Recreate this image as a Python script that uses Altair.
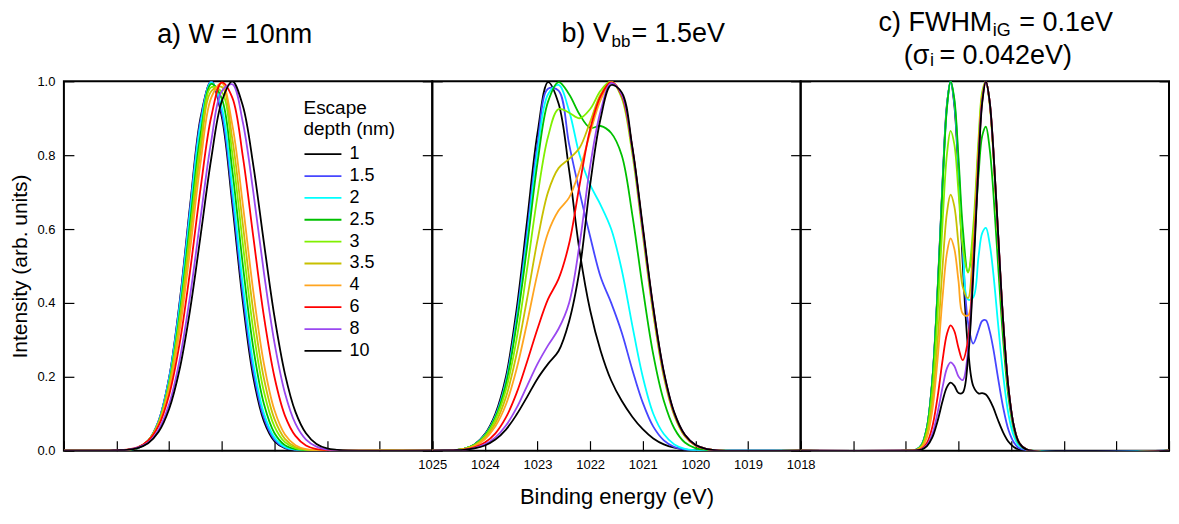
import altair as alt
import pandas as pd

FONT = "Liberation Sans"

depths = ["1", "1.5", "2", "2.5", "3", "3.5", "4", "6", "8", "10"]
colors = ["#000000", "#4646ff", "#00ffff", "#00c000", "#80f000", "#c8c000",
          "#ffa520", "#ff0000", "#9a48f0", "#000000"]

x_ticks = [1025, 1024, 1023, 1022, 1021, 1020, 1019, 1018]
y_ticks = [0.0, 0.2, 0.4, 0.6, 0.8, 1.0]

# ---------------- panel a) W = 10nm ----------------
grid_a = [1025.0, 1024.2, 1024.0, 1023.8, 1023.6, 1023.4, 1023.2, 1023.0, 1022.8,
          1022.6, 1022.4, 1022.2, 1022.0, 1021.8, 1021.6, 1021.4, 1021.2, 1021.0,
          1020.8, 1020.6, 1020.4, 1020.2, 1020.0, 1019.8, 1019.6, 1018.0]
a_1 = [0, 0, 0, 0.002, 0.007, 0.026, 0.080, 0.198, 0.403, 0.667, 0.904, 1.0, 0.904,
       0.667, 0.403, 0.198, 0.080, 0.026, 0.007, 0.002, 0, 0, 0, 0, 0, 0]
a_15 = [0, 0, 0, 0.002, 0.007, 0.027, 0.081, 0.198, 0.399, 0.660, 0.897, 1.0, 0.915,
        0.687, 0.424, 0.214, 0.089, 0.030, 0.008, 0.002, 0, 0, 0, 0, 0, 0]
a_2 = [0, 0, 0, 0.002, 0.007, 0.027, 0.079, 0.193, 0.389, 0.646, 0.885, 0.998, 0.929,
       0.712, 0.450, 0.235, 0.101, 0.036, 0.010, 0.003, 0.001, 0, 0, 0, 0, 0]
a_25 = [0, 0, 0, 0.002, 0.007, 0.026, 0.076, 0.184, 0.371, 0.620, 0.860, 0.993, 0.953,
        0.759, 0.503, 0.277, 0.127, 0.048, 0.015, 0.004, 0.001, 0, 0, 0, 0, 0]
a_3 = [0, 0, 0, 0.002, 0.008, 0.027, 0.076, 0.180, 0.359, 0.597, 0.837, 0.984, 0.971,
       0.805, 0.560, 0.326, 0.160, 0.066, 0.023, 0.007, 0.002, 0, 0, 0, 0, 0]
a_35 = [0, 0, 0, 0.002, 0.008, 0.027, 0.075, 0.175, 0.345, 0.576, 0.813, 0.973, 0.985,
        0.844, 0.613, 0.376, 0.196, 0.086, 0.032, 0.010, 0.003, 0.001, 0, 0, 0, 0]
a_4 = [0, 0, 0.001, 0.002, 0.008, 0.026, 0.071, 0.164, 0.325, 0.546, 0.783, 0.956, 0.995,
       0.882, 0.667, 0.430, 0.236, 0.110, 0.044, 0.015, 0.004, 0.001, 0, 0, 0, 0]
a_6 = [0, 0, 0.001, 0.003, 0.009, 0.027, 0.068, 0.151, 0.291, 0.489, 0.713, 0.904, 0.997,
       0.956, 0.797, 0.578, 0.364, 0.200, 0.095, 0.040, 0.014, 0.004, 0.001, 0, 0, 0]
a_8 = [0, 0, 0.001, 0.002, 0.008, 0.022, 0.057, 0.126, 0.246, 0.421, 0.634, 0.838, 0.973,
       0.992, 0.889, 0.699, 0.483, 0.293, 0.156, 0.073, 0.030, 0.011, 0.003, 0.001, 0, 0]
a_10 = [0, 0, 0.001, 0.002, 0.007, 0.020, 0.051, 0.113, 0.221, 0.383, 0.585, 0.791, 0.946,
        1.0, 0.934, 0.772, 0.564, 0.364, 0.208, 0.105, 0.047, 0.018, 0.006, 0.002, 0, 0]

# ---------------- panel b) Vbb = 1.5eV ----------------
grid_b = [1025.0, 1024.6, 1024.4, 1024.2, 1024.0, 1023.8, 1023.6, 1023.4, 1023.2, 1023.0,
          1022.8, 1022.6, 1022.4, 1022.2, 1022.0, 1021.8, 1021.6, 1021.4, 1021.2, 1021.0,
          1020.8, 1020.6, 1020.4, 1020.2, 1020.0, 1019.8, 1019.6, 1018.0]
b_1 = [0, 0.001, 0.005, 0.017, 0.045, 0.10, 0.20, 0.38, 0.62, 0.86, 0.998, 0.94, 0.76,
       0.54, 0.38, 0.27, 0.19, 0.135, 0.092, 0.058, 0.033, 0.017, 0.008, 0.003, 0.001, 0, 0, 0]
b_15 = [0, 0.001, 0.005, 0.016, 0.043, 0.095, 0.19, 0.36, 0.59, 0.83, 0.98, 0.975, 0.83,
        0.70, 0.58, 0.47, 0.40, 0.32, 0.22, 0.13, 0.065, 0.028, 0.010, 0.003, 0.001, 0, 0, 0]
b_2 = [0, 0.001, 0.005, 0.016, 0.042, 0.092, 0.185, 0.35, 0.57, 0.81, 0.965, 0.99, 0.92,
       0.80, 0.72, 0.665, 0.60, 0.49, 0.34, 0.20, 0.10, 0.045, 0.017, 0.005, 0.001, 0, 0, 0]
b_25 = [0, 0.001, 0.005, 0.016, 0.041, 0.09, 0.18, 0.34, 0.55, 0.78, 0.945, 0.998, 0.965,
        0.91, 0.874, 0.879, 0.86, 0.80, 0.64, 0.44, 0.26, 0.135, 0.06, 0.022, 0.007, 0.002, 0, 0]
b_3 = [0, 0.001, 0.005, 0.015, 0.039, 0.085, 0.165, 0.30, 0.49, 0.69, 0.85, 0.925, 0.915,
       0.90, 0.925, 0.975, 1.0, 0.955, 0.805, 0.585, 0.37, 0.20, 0.095, 0.039, 0.014, 0.004, 0.001, 0]
b_35 = [0, 0.001, 0.004, 0.014, 0.035, 0.075, 0.145, 0.26, 0.41, 0.57, 0.70, 0.765, 0.79,
        0.82, 0.89, 0.965, 0.999, 0.96, 0.815, 0.595, 0.375, 0.205, 0.098, 0.04, 0.015, 0.005, 0.001, 0]
b_4 = [0, 0.001, 0.004, 0.012, 0.031, 0.066, 0.125, 0.22, 0.345, 0.48, 0.59, 0.65, 0.685,
       0.76, 0.86, 0.95, 0.997, 0.965, 0.82, 0.60, 0.38, 0.21, 0.10, 0.042, 0.015, 0.005, 0.001, 0]
b_6 = [0, 0.001, 0.003, 0.009, 0.022, 0.047, 0.09, 0.155, 0.24, 0.33, 0.41, 0.465, 0.56,
       0.72, 0.87, 0.96, 0.998, 0.962, 0.82, 0.60, 0.385, 0.21, 0.10, 0.042, 0.015, 0.005, 0.001, 0]
b_8 = [0, 0.001, 0.002, 0.007, 0.017, 0.036, 0.068, 0.115, 0.175, 0.235, 0.285, 0.33, 0.40,
       0.56, 0.77, 0.92, 0.995, 0.965, 0.82, 0.60, 0.385, 0.212, 0.102, 0.043, 0.016, 0.005, 0.001, 0]
b_10 = [0, 0.001, 0.002, 0.006, 0.014, 0.03, 0.057, 0.097, 0.145, 0.195, 0.235, 0.27, 0.35,
        0.49, 0.72, 0.90, 0.99, 0.97, 0.824, 0.607, 0.388, 0.214, 0.103, 0.043, 0.016, 0.005, 0.001, 0]

# ---------------- panel c) FWHM_iG = 0.1eV ----------------
grid_c = [1025.0, 1023.0, 1022.8, 1022.7, 1022.6, 1022.5, 1022.4, 1022.3, 1022.22, 1022.15,
          1022.08, 1022.0, 1021.92, 1021.82, 1021.72, 1021.62, 1021.55, 1021.48, 1021.41,
          1021.34, 1021.25, 1021.15, 1021.05, 1020.95, 1020.85, 1020.7, 1018.0]
c_1 = [0, 0, 0.003, 0.016, 0.063, 0.188, 0.428, 0.738, 0.937, 1.0, 0.937, 0.745, 0.509, 0.279,
       0.175, 0.155, 0.156, 0.152, 0.138, 0.117, 0.083, 0.049, 0.024, 0.010, 0.003, 0, 0]
c_15 = [0, 0, 0.003, 0.016, 0.063, 0.186, 0.423, 0.732, 0.932, 1.0, 0.944, 0.765, 0.546, 0.348,
        0.290, 0.326, 0.351, 0.353, 0.325, 0.277, 0.198, 0.116, 0.056, 0.023, 0.007, 0.001, 0]
c_2 = [0, 0, 0.003, 0.016, 0.062, 0.185, 0.422, 0.730, 0.931, 1.0, 0.948, 0.777, 0.572, 0.409,
       0.415, 0.525, 0.589, 0.603, 0.562, 0.482, 0.346, 0.203, 0.098, 0.040, 0.013, 0.002, 0]
c_25 = [0, 0, 0.003, 0.015, 0.062, 0.184, 0.419, 0.726, 0.928, 1.0, 0.953, 0.793, 0.606, 0.484,
        0.558, 0.746, 0.852, 0.877, 0.820, 0.704, 0.507, 0.297, 0.144, 0.058, 0.019, 0.003, 0]
c_3 = [0, 0, 0.0025, 0.013, 0.053, 0.158, 0.361, 0.626, 0.802, 0.866, 0.830, 0.699, 0.552, 0.482,
       0.607, 0.843, 0.971, 1.0, 0.941, 0.809, 0.583, 0.341, 0.165, 0.067, 0.022, 0.003, 0]
c_35 = [0, 0, 0.002, 0.011, 0.043, 0.128, 0.291, 0.504, 0.644, 0.693, 0.662, 0.557, 0.444, 0.413,
        0.565, 0.820, 0.961, 1.0, 0.944, 0.813, 0.587, 0.344, 0.166, 0.067, 0.022, 0.003, 0]
c_4 = [0, 0, 0.002, 0.009, 0.036, 0.107, 0.243, 0.420, 0.535, 0.575, 0.547, 0.459, 0.371, 0.366,
       0.537, 0.805, 0.954, 1.0, 0.946, 0.816, 0.590, 0.346, 0.167, 0.067, 0.022, 0.003, 0]
c_6 = [0, 0, 0.001, 0.005, 0.021, 0.063, 0.143, 0.248, 0.316, 0.339, 0.324, 0.278, 0.245, 0.299,
       0.503, 0.790, 0.948, 1.0, 0.947, 0.819, 0.593, 0.347, 0.168, 0.068, 0.022, 0.003, 0]
c_8 = [0, 0, 0.001, 0.004, 0.015, 0.044, 0.101, 0.174, 0.223, 0.239, 0.229, 0.201, 0.191, 0.268,
       0.488, 0.783, 0.945, 1.0, 0.947, 0.820, 0.594, 0.348, 0.168, 0.068, 0.022, 0.003, 0]
c_10 = [0, 0, 0.001, 0.003, 0.012, 0.035, 0.079, 0.136, 0.172, 0.184, 0.176, 0.156, 0.157, 0.248,
        0.475, 0.775, 0.941, 1.0, 0.948, 0.820, 0.595, 0.348, 0.169, 0.068, 0.022, 0.003, 0]

series_a = [a_1, a_15, a_2, a_25, a_3, a_35, a_4, a_6, a_8, a_10]
series_b = [b_1, b_15, b_2, b_25, b_3, b_35, b_4, b_6, b_8, b_10]
series_c = [c_1, c_15, c_2, c_25, c_3, c_35, c_4, c_6, c_8, c_10]


def frame(grid, series):
    rows = []
    for d, vals in zip(depths, series):
        for e, v in zip(grid, vals):
            rows.append({"depth": d, "E": e, "I": v})
    return pd.DataFrame(rows)


def txt(text, x, y, size, align="center"):
    return alt.Chart(alt.Data(values=[{"t": text}])).mark_text(
        align=align, baseline="alphabetic", fontSize=size, font=FONT, color="black"
    ).encode(text="t:N", x=alt.value(x), y=alt.value(y))


W = 369
H = 370
xscale = alt.Scale(domain=[1018, 1025], reverse=True, nice=False, zero=False)
yscale = alt.Scale(domain=[0, 1], nice=False, zero=False)
cscale = alt.Scale(domain=depths, range=colors)


def panel(df, idx, texts):
    middle = idx == 1
    first = idx == 0
    xaxis = alt.Axis(values=x_ticks, orient="bottom", offset=-10, tickSize=10, domain=False,
                     grid=False, labels=middle, labelFontSize=13, labelPadding=8,
                     labelFlush=False, labelOverlap=False, format="d",
                     title="Binding energy (eV)" if middle else None,
                     titleFontSize=22, titlePadding=15)
    yaxis = alt.Axis(values=y_ticks, orient="left", offset=-10, tickSize=10, domain=False,
                     grid=False, labels=first, labelFontSize=13, labelPadding=9, format=".1f",
                     title="Intensity (arb. units)" if first else None,
                     titleFontSize=21, titlePadding=6)
    if first:
        legend = alt.Legend(title=["Escape", "depth (nm)"], orient="none", legendX=240,
                            legendY=18, symbolType="stroke", symbolSize=1369,
                            symbolStrokeWidth=1.8, labelFontSize=18, titleFontSize=19,
                            titleFontWeight="normal", titleLineHeight=21, clipHeight=20,
                            rowPadding=1.9, titlePadding=5, labelOffset=7, padding=0,
                            labelFont=FONT, titleFont=FONT)
    else:
        legend = None
    lines = alt.Chart(df).mark_line(strokeWidth=1.8, interpolate="catmull-rom", clip=True).encode(
        x=alt.X("E:Q", scale=xscale, axis=xaxis),
        y=alt.Y("I:Q", scale=yscale, axis=yaxis),
        color=alt.Color("depth:N", scale=cscale, sort=depths, legend=legend),
    )
    right = alt.Chart(alt.Data(values=[{"I": 0.0}, {"I": 1.0}])).mark_point(opacity=0).encode(
        y=alt.Y("I:Q", scale=yscale,
                axis=alt.Axis(values=y_ticks, orient="right", offset=-10, tickSize=10,
                              domain=False, grid=False, labels=False, title=None))
    )
    return alt.layer(lines, right, *texts).resolve_axis(y="independent").properties(
        width=W, height=H)


texts_a = [txt("a) W = 10nm", 171, -38, 27)]
texts_b = [
    txt("b) V", 179, -39, 27, "right"),
    txt("bb", 179.5, -34, 17, "left"),
    txt("= 1.5eV", 199.5, -39, 27, "left"),
]
texts_c = [
    txt("c) FWHM", 192, -50, 27, "right"),
    txt("iG", 192.5, -45.5, 18, "left"),
    txt("= 0.1eV", 219, -50, 27, "left"),
    txt("(σ", 129, -17, 27, "right"),
    txt("i", 129.5, -15, 18, "left"),
    txt("= 0.042eV)", 139, -17, 27, "left"),
]

pa = panel(frame(grid_a, series_a), 0, texts_a)
pb = panel(frame(grid_b, series_b), 1, texts_b)
pc = panel(frame(grid_c, series_c), 2, texts_c)

chart = alt.hconcat(pa, pb, pc, spacing=0, bounds="flush").resolve_scale(
    color="shared").resolve_legend(color="independent").properties(padding=0).configure_view(
    stroke="black", strokeWidth=2).configure_axis(
    labelFont=FONT, titleFont=FONT, labelColor="black", titleColor="black",
    tickColor="black", tickWidth=1.2, titleFontWeight="normal").configure_legend(
    labelColor="black", titleColor="black")

chart.save("out.html", embed_options={"renderer": "svg", "actions": False})
